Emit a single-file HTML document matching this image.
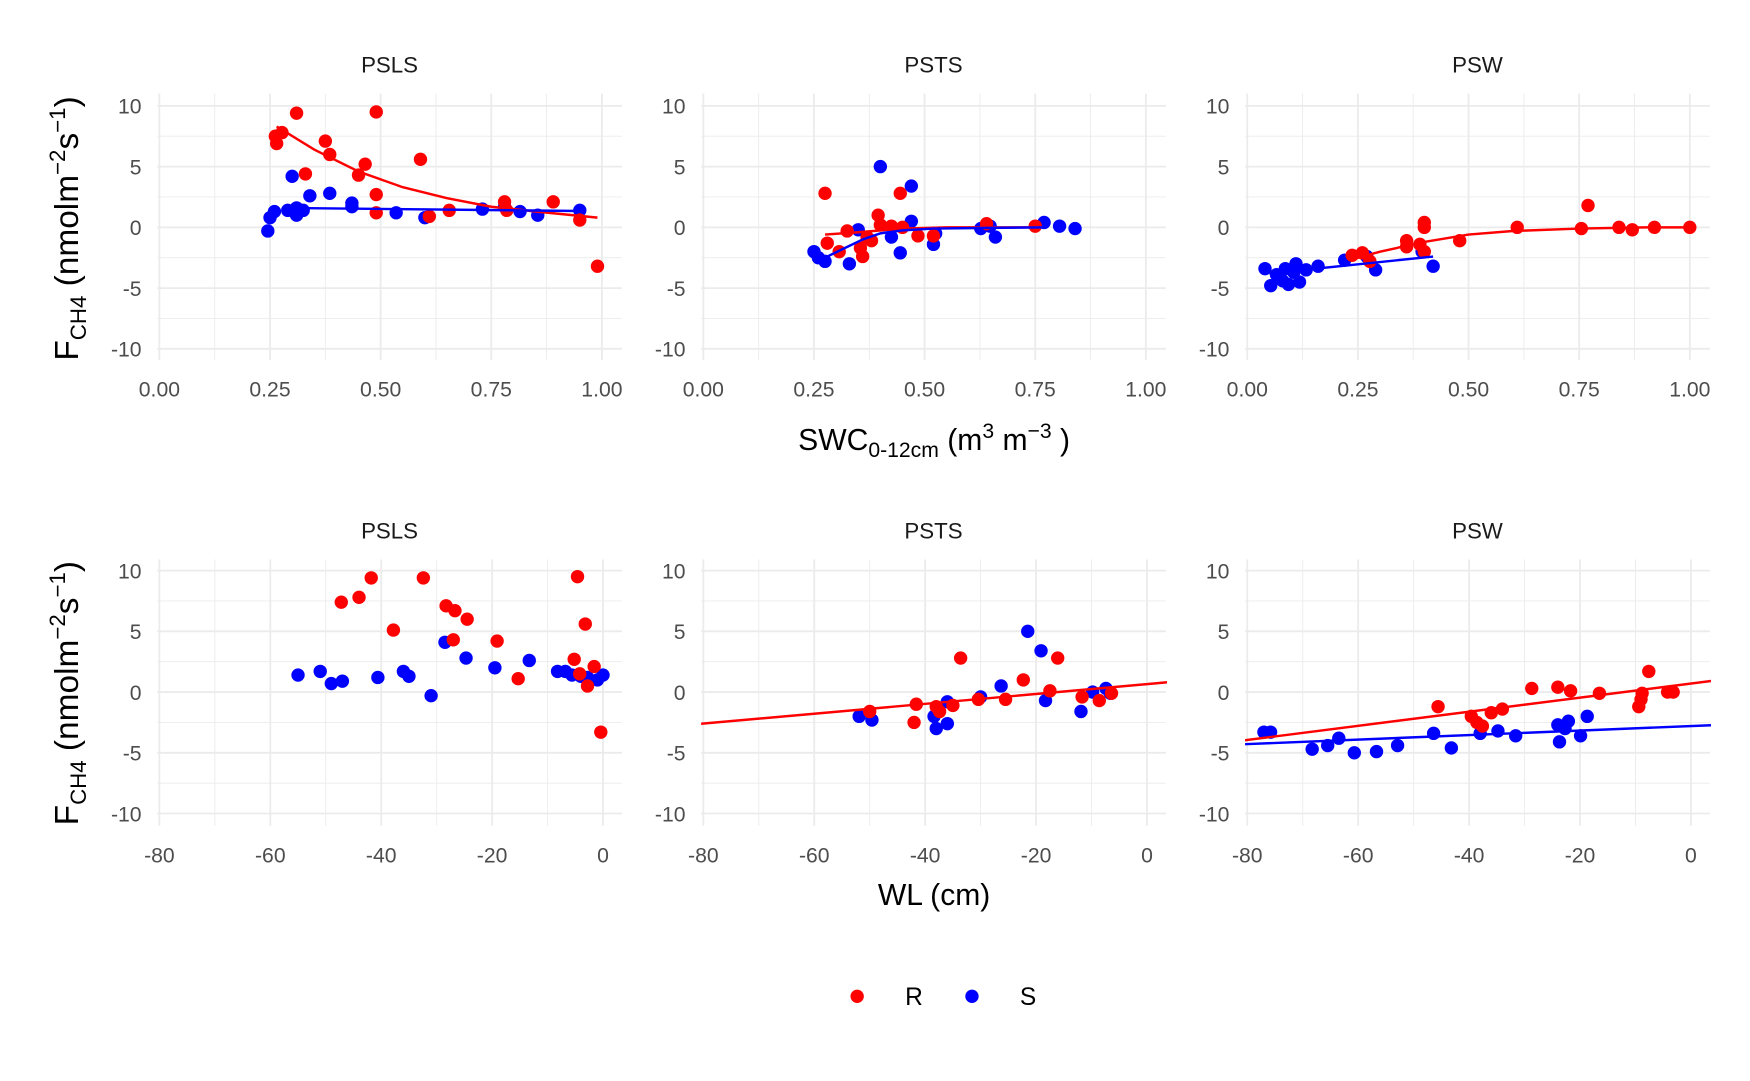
<!DOCTYPE html>
<html><head><meta charset="utf-8"><style>
html,body{margin:0;padding:0;background:#fff;}
svg{display:block;font-family:"Liberation Sans",Arial,sans-serif;}
</style></head><body>
<svg id="chart" width="1750" height="1081" viewBox="0 0 1570 970" preserveAspectRatio="none" xmlns="http://www.w3.org/2000/svg"></svg>
<script>
// ---------- DATA ----------
const panelNames = ["PSLS","PSTS","PSW"];
const yTicks = [10,5,0,-5,-10];
const yMinor = [7.5,2.5,-2.5,-7.5];
const swcTicks = [0,0.25,0.5,0.75,1];
const swcTickLabels = ["0.00","0.25","0.50","0.75","1.00"];
const swcMinor = [0.125,0.375,0.625,0.875];
const wlTicks = [-80,-60,-40,-20,0];
const wlTickLabels = ["-80","-60","-40","-20","0"];
const wlMinor = [-70,-50,-30,-10];

// Row 1 (SWC) points
const swcPSLS_R_x = [0.262,0.265,0.277,0.31,0.33,0.375,0.385,0.45,0.465,0.49,0.49,0.49,0.59,0.61,0.655,0.78,0.785,0.89,0.95,0.99];
const swcPSLS_R_y = [7.5,6.9,7.8,9.4,4.4,7.1,6.0,4.3,5.2,9.5,2.7,1.2,5.6,0.9,1.4,2.1,1.4,2.1,0.6,-3.2];
const swcPSLS_S_x = [0.245,0.25,0.26,0.30,0.29,0.31,0.31,0.325,0.34,0.385,0.435,0.435,0.535,0.60,0.73,0.78,0.815,0.855,0.95];
const swcPSLS_S_y = [-0.3,0.8,1.3,4.2,1.4,1.0,1.6,1.4,2.6,2.8,2.0,1.7,1.2,0.8,1.5,1.7,1.3,1.0,1.4];
const swcPSTS_R_x = [0.275,0.28,0.307,0.325,0.355,0.36,0.37,0.38,0.395,0.40,0.425,0.445,0.45,0.485,0.52,0.64,0.75];
const swcPSTS_R_y = [2.8,-1.3,-2.0,-0.3,-1.7,-2.4,-0.8,-1.1,1.0,0.2,0.1,2.8,0.0,-0.7,-0.7,0.3,0.1];
const swcPSTS_S_x = [0.25,0.26,0.275,0.33,0.35,0.40,0.425,0.445,0.47,0.47,0.52,0.525,0.627,0.648,0.66,0.77,0.805,0.84];
const swcPSTS_S_y = [-2.0,-2.5,-2.8,-3.0,-0.2,5.0,-0.8,-2.1,3.4,0.5,-1.4,-0.5,-0.1,0.1,-0.8,0.4,0.1,-0.1];
const swcPSW_R_x = [0.237,0.26,0.277,0.36,0.36,0.39,0.40,0.40,0.40,0.48,0.61,0.755,0.77,0.84,0.87,0.92,1.0];
const swcPSW_R_y = [-2.3,-2.1,-2.8,-1.1,-1.6,-1.4,0.4,0.0,-2.0,-1.1,0.0,-0.1,1.8,0.0,-0.2,0.0,0.0];
const swcPSW_S_x = [0.04,0.053,0.066,0.08,0.086,0.093,0.105,0.11,0.118,0.133,0.16,0.22,0.27,0.29,0.395,0.42];
const swcPSW_S_y = [-3.4,-4.8,-3.9,-4.4,-3.4,-4.7,-3.7,-3.0,-4.5,-3.5,-3.2,-2.7,-2.4,-3.5,-2.0,-3.2];

// Row 1 fitted curves
const fitPSLS_R_x = [0.265,0.35,0.45,0.55,0.65,0.75,0.85,0.99];
const fitPSLS_R_y = [8.3,6.4,4.6,3.3,2.4,1.7,1.3,0.8];
const fitPSLS_S_x = [0.28,0.95];
const fitPSLS_S_y = [1.6,1.35];
const fitPSTS_R_x = [0.275,0.35,0.45,0.55,0.75];
const fitPSTS_R_y = [-0.6,-0.4,-0.1,0.0,0.0];
const fitPSTS_S_x = [0.28,0.32,0.36,0.40,0.45,0.52,0.65,0.77];
const fitPSTS_S_y = [-2.4,-1.7,-1.0,-0.5,-0.25,-0.1,-0.05,0.0];
const fitPSW_R_x = [0.24,0.3,0.4,0.5,0.6,0.75,0.9,1.0];
const fitPSW_R_y = [-2.6,-2.0,-1.2,-0.6,-0.3,-0.1,0.0,0.0];
const fitPSW_S_x = [0.05,0.42];
const fitPSW_S_y = [-3.8,-2.4];

// Row 2 (WL) points
const wlPSLS_R_x = [-47.2,-44,-41.8,-37.8,-32.4,-28.3,-26.7,-27,-24.5,-19.1,-15.3,-5.2,-4.6,-3.2,-2.8,-1.6,-0.4,-4.2];
const wlPSLS_R_y = [7.4,7.8,9.4,5.1,9.4,7.1,6.7,4.3,6.0,4.2,1.1,2.7,9.5,5.6,0.5,2.1,-3.3,1.5];
const wlPSLS_S_x = [-55,-51,-49,-47,-40.6,-36,-35,-31,-28.5,-24.7,-19.5,-13.3,-8.2,-6.8,-5.6,-4,-1,0,-2.8];
const wlPSLS_S_y = [1.4,1.7,0.7,0.9,1.2,1.7,1.3,-0.3,4.1,2.8,2.0,2.6,1.7,1.7,1.4,1.3,1.0,1.4,1.2];
const wlPSTS_R_x = [-50,-41.6,-42,-38,-37.4,-35,-33.6,-30.4,-25.5,-22.3,-17.5,-16.1,-11.7,-8.6,-6.4];
const wlPSTS_R_y = [-1.6,-1.0,-2.5,-1.2,-1.6,-1.1,2.8,-0.6,-0.6,1.0,0.1,2.8,-0.4,-0.7,-0.1];
const wlPSTS_S_x = [-51.9,-49.6,-38.4,-38,-36,-36,-30,-26.3,-21.5,-19.1,-18.3,-11.9,-9.8,-7.4,-6.6];
const wlPSTS_S_y = [-2.0,-2.3,-2.0,-3.0,-2.6,-0.8,-0.4,0.5,5.0,3.4,-0.7,-1.6,0.0,0.3,-0.1];
const wlPSW_R_x = [-45.6,-39.6,-38.6,-37.6,-36,-34,-28.7,-24,-21.7,-16.5,-9.4,-8.8,-9,-7.6,-4.2,-3.2];
const wlPSW_R_y = [-1.2,-2.0,-2.5,-2.8,-1.7,-1.4,0.3,0.4,0.1,-0.1,-1.2,-0.1,-0.6,1.7,0.0,0.0];
const wlPSW_S_x = [-77,-75.8,-68.3,-65.5,-63.5,-60.7,-56.7,-52.9,-46.4,-43.2,-38,-34.8,-31.6,-24,-23.7,-22.7,-22.1,-19.9,-18.7];
const wlPSW_S_y = [-3.3,-3.3,-4.7,-4.4,-3.8,-5.0,-4.9,-4.4,-3.4,-4.6,-3.4,-3.2,-3.6,-2.7,-4.1,-3.0,-2.4,-3.6,-2.0];

// Row 2 linear fits [intercept, slope]
const linPSTS_R = [0.65, 0.0405];
const linPSW_R = [0.7, 0.058];
const linPSW_S = [-2.8, 0.0185];

// ---------- LAYOUT ----------
const NS = "http://www.w3.org/2000/svg";
const svg = document.getElementById("chart");
const RED = "#ff0000", BLUE = "#0000ff";
const panelLeft = [141,629,1117];
const panelW = 417;
const rows = [{top:84,bottom:323,y0:204,title:58}, {top:502,bottom:741,y0:621,title:476}];
const yUnit = 10.9;

function mk(tag, attrs, parent){
  const e = document.createElementNS(NS, tag);
  for (const k in attrs) e.setAttribute(k, attrs[k]);
  (parent||svg).appendChild(e);
  return e;
}
function xSWC(p, v){ return panelLeft[p] + 2 + v*397; }
function xWL(p, v){ return panelLeft[p] + 2 + (v+80)*4.975; }
function yS(r, v){ return rows[r].y0 - v*yUnit; }

function drawPanel(r, p, xf, ticks, labels, minor){
  const g = mk("g", {});
  
  
  const L = panelLeft[p], R = L + panelW, T = rows[r].top, B = rows[r].bottom;
  minor.forEach(v => { const x = xf(p,v);
    const l = mk("line",{x1:x,x2:x,y1:T,y2:B,stroke:"#ebebeb","stroke-width":0.8},g);
      });
  yMinor.forEach(v => { const y = yS(r,v);
    const l = mk("line",{x1:L,x2:R,y1:y,y2:y,stroke:"#ebebeb","stroke-width":0.8},g);
      });
  ticks.forEach((v,i) => { const x = xf(p,v);
    const l = mk("line",{x1:x,x2:x,y1:T,y2:B,stroke:"#ebebeb","stroke-width":1.6},g);
     
    const t = mk("text",{x:x,y:B+33,"text-anchor":"middle","font-size":19,fill:"#4d4d4d"},g);
    t.textContent = labels[i];
      });
  yTicks.forEach(v => { const y = yS(r,v);
    const l = mk("line",{x1:L,x2:R,y1:y,y2:y,stroke:"#ebebeb","stroke-width":1.6},g);
     
    const t = mk("text",{x:L-14,y:y+7,"text-anchor":"end","font-size":19,fill:"#4d4d4d"},g);
    t.textContent = String(v);
      });
  const st = mk("text",{x:L+panelW/2,y:rows[r].title+7,"text-anchor":"middle","font-size":20,fill:"#1a1a1a"},g);
  st.textContent = panelNames[p];
   
  return g;
}
function clip(r,p){
  const id = "c"+r+p;
  const cp = mk("clipPath",{id:id});
  mk("rect",{x:panelLeft[p],y:rows[r].top,width:panelW+1,height:rows[r].bottom-rows[r].top},cp);
  return "url(#"+id+")";
}
function points(g, r, p, xf, xs, ys, color){
  xs.forEach((xv,i) => {
    const c = mk("circle",{cx:xf(p,xv),cy:yS(r,ys[i]),r:6,fill:color},g);
    
    
  });
}
function curve(g, r, p, xf, xs, ys, color, cp){
  let d = "";
  xs.forEach((xv,i) => { d += (i?"L":"M") + xf(p,xv).toFixed(1) + "," + yS(r,ys[i]).toFixed(1); });
  const path = mk("path",{d:d,fill:"none",stroke:color,"stroke-width":2.2,"clip-path":cp},g);
  
  
}
function linear(g, r, p, coef, color, cp){
  const x1 = -81, x2 = 4;
  curve(g, r, p, xWL, [x1,x2], [coef[0]+coef[1]*x1, coef[0]+coef[1]*x2], color, cp);
}

// Row 1
const swcPts = [[swcPSLS_R_x,swcPSLS_R_y,swcPSLS_S_x,swcPSLS_S_y],[swcPSTS_R_x,swcPSTS_R_y,swcPSTS_S_x,swcPSTS_S_y],[swcPSW_R_x,swcPSW_R_y,swcPSW_S_x,swcPSW_S_y]];
const swcFits = [[fitPSLS_R_x,fitPSLS_R_y,fitPSLS_S_x,fitPSLS_S_y],[fitPSTS_R_x,fitPSTS_R_y,fitPSTS_S_x,fitPSTS_S_y],[fitPSW_R_x,fitPSW_R_y,fitPSW_S_x,fitPSW_S_y]];
for (let p=0;p<3;p++){
  const g = drawPanel(0,p,xSWC,swcTicks,swcTickLabels,swcMinor);
  const cp = clip(0,p);
  const d = swcPts[p], f = swcFits[p];
  points(g,0,p,xSWC,d[2],d[3],BLUE);
  points(g,0,p,xSWC,d[0],d[1],RED);
  curve(g,0,p,xSWC,f[0],f[1],RED,cp);
  curve(g,0,p,xSWC,f[2],f[3],BLUE,cp);
}
// Row 2
const wlPts = [[wlPSLS_R_x,wlPSLS_R_y,wlPSLS_S_x,wlPSLS_S_y],[wlPSTS_R_x,wlPSTS_R_y,wlPSTS_S_x,wlPSTS_S_y],[wlPSW_R_x,wlPSW_R_y,wlPSW_S_x,wlPSW_S_y]];
for (let p=0;p<3;p++){
  const g = drawPanel(1,p,xWL,wlTicks,wlTickLabels,wlMinor);
  const cp = clip(1,p);
  const d = wlPts[p];
  points(g,1,p,xWL,d[2],d[3],BLUE);
  points(g,1,p,xWL,d[0],d[1],RED);
  if (p===1) linear(g,1,p,linPSTS_R,RED,cp);
  if (p===2){ linear(g,1,p,linPSW_R,RED,cp); linear(g,1,p,linPSW_S,BLUE,cp); }
}
</script>
<script>
(function(){
  const NS = "http://www.w3.org/2000/svg";
  const svg = document.getElementById("chart");
  function add(html){ const g = document.createElementNS(NS,"g"); g.innerHTML = html; svg.appendChild(g); }
  add('<text transform="translate(70,205) rotate(-90)" text-anchor="middle" font-size="30" fill="#000">F<tspan font-size="20" baseline-shift="-7">CH4</tspan> (nmolm<tspan font-size="20" baseline-shift="12">−2</tspan>s<tspan font-size="20" baseline-shift="12">−1</tspan>)</text>');
  add('<text transform="translate(70,622) rotate(-90)" text-anchor="middle" font-size="30" fill="#000">F<tspan font-size="20" baseline-shift="-7">CH4</tspan> (nmolm<tspan font-size="20" baseline-shift="12">−2</tspan>s<tspan font-size="20" baseline-shift="12">−1</tspan>)</text>');
  add('<text x="838" y="404" text-anchor="middle" font-size="27" fill="#000">SWC<tspan font-size="19" baseline-shift="-6">0-12cm</tspan> (m<tspan font-size="19" baseline-shift="11">3</tspan> m<tspan font-size="19" baseline-shift="11">−3</tspan> )</text>');
  add('<text x="838" y="812" text-anchor="middle" font-size="27" fill="#000">WL (cm)</text>');
  add('<g>' +
      '<circle cx="769" cy="894" r="6" fill="#ff0000"/>' +
      '<text x="812" y="902" font-size="22" fill="#000">R</text>' +
      '<circle cx="872" cy="894" r="6" fill="#0000ff"/>' +
      '<text x="915" y="902" font-size="22" fill="#000">S</text></g>');
})();
</script>
</body></html>
